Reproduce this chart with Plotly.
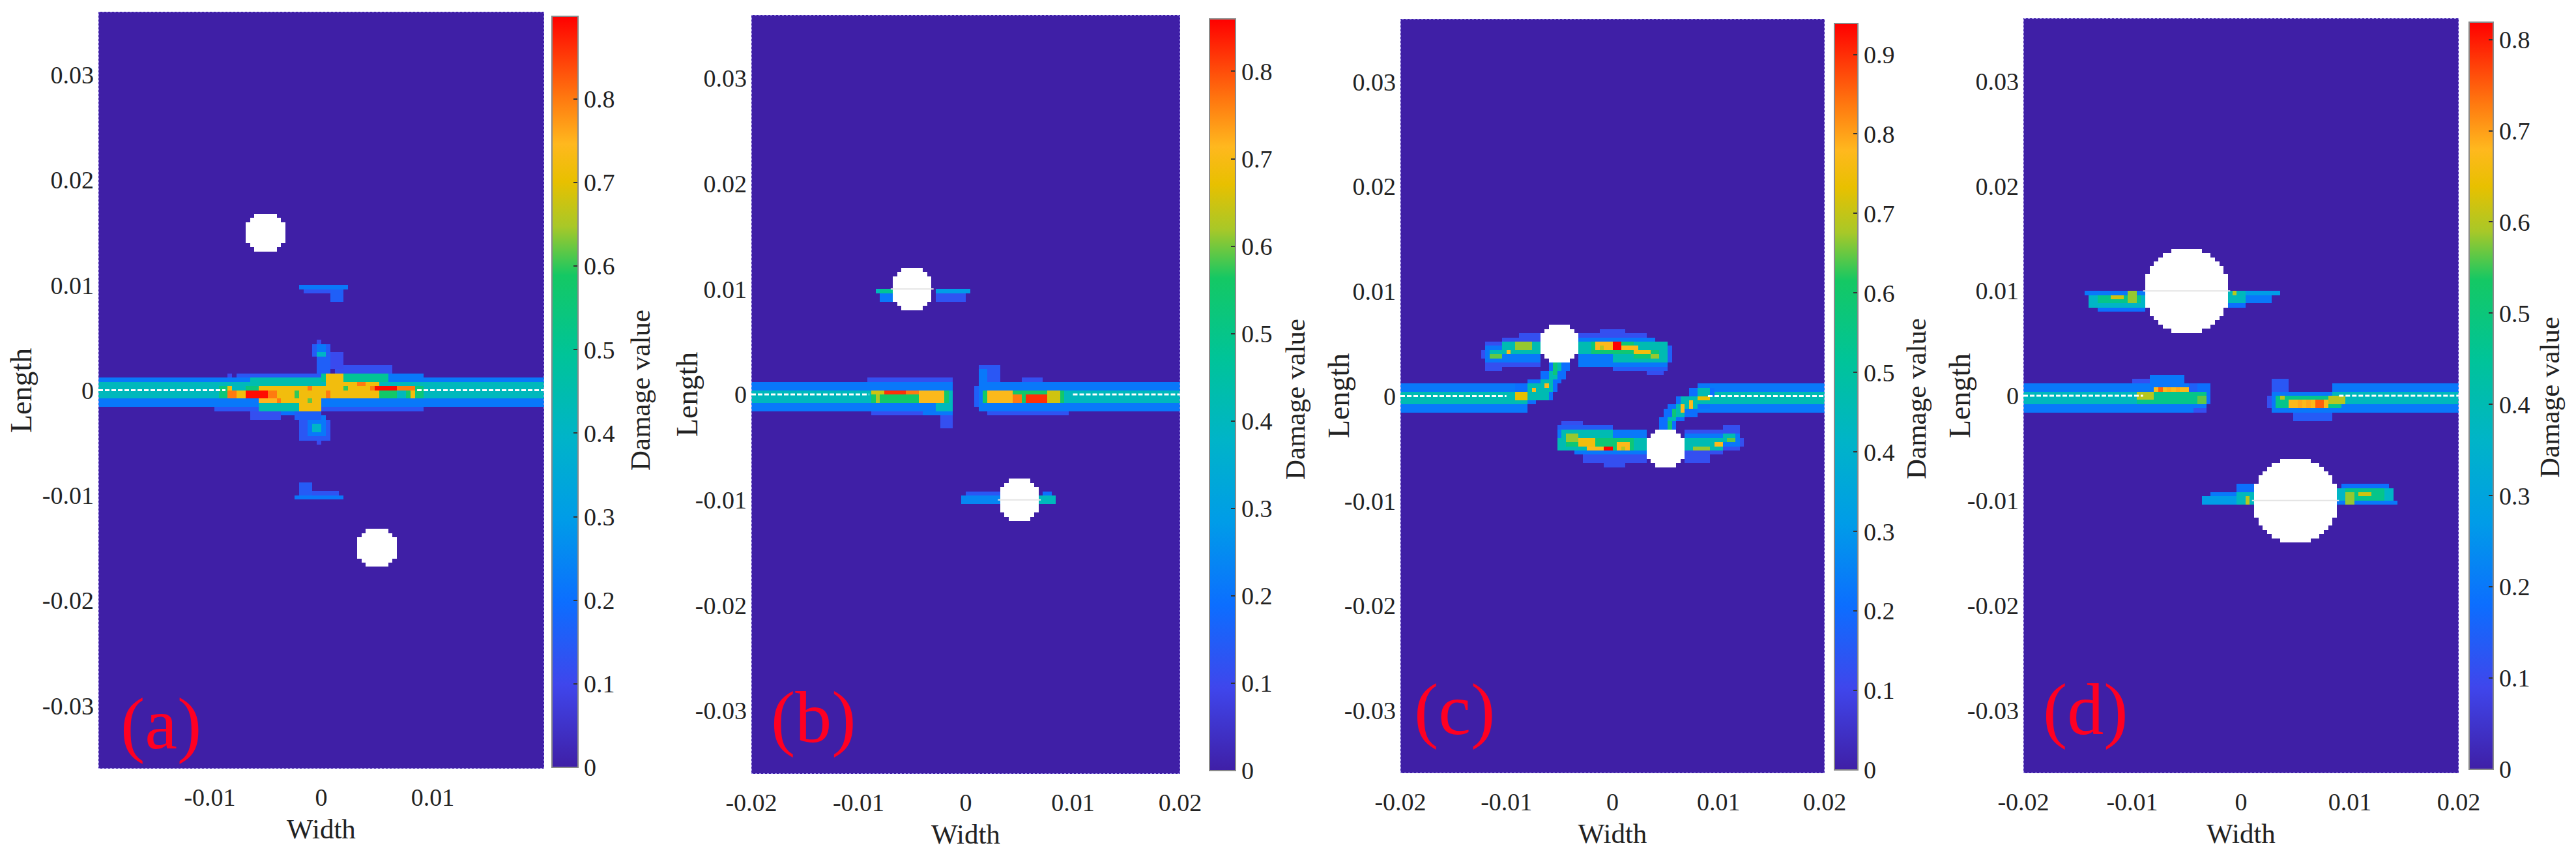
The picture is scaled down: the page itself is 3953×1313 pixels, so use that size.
import numpy as np
import plotly.graph_objects as go

FIG_W, FIG_H = 3953, 1313
FONT = "Liberation Serif"
PAGE_PAD = 8  # the page adds this margin around the figure

# damage colour scale (fraction of colour-bar maximum)
color_stops = [[0.0, "#3F1FA6"], [0.11, "#3F46EC"], [0.22, "#0C6EFF"], [0.33, "#009CE8"],
               [0.44, "#00B4C8"], [0.55, "#00C498"], [0.655, "#14C864"], [0.72, "#A8C828"],
               [0.78, "#E8C000"], [0.83, "#FFB81E"], [0.89, "#FF7A10"], [1.0, "#FF0000"]]

labels = ["(a)", "(b)", "(c)", "(d)"]
z_max = [0.899, 0.86, 0.939, 0.819]
cbar_ticks = [[0, .1, .2, .3, .4, .5, .6, .7, .8],
              [0, .1, .2, .3, .4, .5, .6, .7, .8],
              [0, .1, .2, .3, .4, .5, .6, .7, .8, .9],
              [0, .1, .2, .3, .4, .5, .6, .7, .8]]
x_ticks = [[-0.01, 0, 0.01], [-0.02, -0.01, 0, 0.01, 0.02],
           [-0.02, -0.01, 0, 0.01, 0.02], [-0.02, -0.01, 0, 0.01, 0.02]]
y_ticks = [-0.03, -0.02, -0.01, 0, 0.01, 0.02, 0.03]

# holes: centre x, centre y, radius (mm)
holes_a = [(-5, 15, 2), (5, -15, 2)]
holes_b = [(-5, 10, 2), (5, -10, 2)]
holes_c = [(-5, 5, 2), (5, -5, 2)]
holes_d = [(-5, 10, 4), (5, -10, 4)]

# crack segments along y=0 (mm)
crack_a = [(-20, -8.6), (8.6, 20)]
crack_b = [(-20, -9), (10, 20)]
crack_c = [(-20, -10), (9, 20)]
crack_d = [(-20, -9), (9, 20)]

# damage patches: x0, x1, y0, y1 (mm), value; later patches overwrite earlier ones
patches_a = [
    (-20, 20, -1.6, 1.2, .22), (-20, 20, -1.0, .6, .42),
    (-7.6, -.2, 1.0, 1.5, .14), (-8.6, -8, 1.0, 1.5, .11),
    (0, 9.2, 1.0, 1.6, .22), (1, 6.2, 1.6, 2.3, .12),
    (-.2, 6, .6, 1.4, .5), (-6.4, -.2, .5, 1.0, .45),
    (-9.2, -8, -.9, .5, .55), (8.5, 9.2, -.9, .4, .55),
    (-9.5, -.2, -1.9, -1.5, .14), (-6.4, -3.5, -2.8, -1.9, .12), (-3.5, -.2, -2.5, -1.9, .2),
    (0, 9, -1.9, -1.5, .14), (-5.6, -.2, -1.9, -1, .45),
    (-5.6, -.2, -1.1, .5, .72), (-2.1, -.2, -1.9, -1.1, .72), (-.2, 5.3, -.8, .5, .72),
    (.4, 2, .5, 1.4, .72), (2, 5.3, .5, .9, .72),
    (-8.6, -8.2, 0, .5, .72), (-7.6, -7, -.9, 0, .72), (-7, -5.6, -1, .4, .55),
    (-8.6, -7.6, -.9, 0, .8), (-7, -4.9, -.8, 0, .89), (-4.9, -4.1, -.7, -.1, .8),
    (5.3, 6.8, -.9, -.2, .58), (7.4, 7.9, -.9, -.1, .58), (5.3, 8.4, -.2, .5, .6),
    (4.8, 6.9, -.15, .5, .89), (4.3, 4.8, -.15, .5, .8), (6.9, 8.4, 0, .5, .8),
    (8, 8.4, -.9, 0, .72), (-5.6, -4.1, -1.4, -.9, .75),
    (-1.2, -.7, 0, .4, .8), (.4, .9, -.8, -.2, .8), (3.3, 3.9, .4, .9, .8), (-3.9, -3.5, -1.2, -.8, .8),
    (-2.5, -2.1, -.7, -.1, .6), (1.9, 2.4, -.2, .2, .6), (-1.4, -.8, -1.3, -.9, .62),
    (-1, .8, 3, 4.4, .15), (-.6, .5, 2.6, 4.2, .22), (-.4, .3, 3, 3.6, .4), (-.5, .1, 4.4, 4.9, .11),
    (-.5, .9, 1.4, 3, .16), (.7, 2, 1.8, 3.5, .11),
    (-2, .6, -4.9, -3, .14), (-1.1, .3, -4.6, -2.6, .22), (-.9, -.1, -4, -3.3, .4),
    (-.4, .1, -5.4, -4.9, .11), (-2.4, -.1, -3, -1.9, .16),
    (-2.1, 2.4, 9.5, 10, .22), (-1.5, 1.9, 9.1, 9.6, .13), (.8, 1.9, 8.5, 9.6, .16),
    (-2.5, 1.9, -10.5, -10, .22), (-2, 1.4, -10, -9.5, .13), (-2, -1, -10, -8.9, .15),
]
patches_b = [
    (-20, -1.4, -1.5, 1.2, .22), (-20, -1.4, -.9, .55, .42),
    (-9.3, -1.2, 1.1, 1.5, .12), (-9, -4, -1.9, -1.5, .12),
    (-4.2, -1.1, -2.2, -1, .22), (-3, -1.1, -1.7, -.8, .42), (-2.4, -1.4, -3.2, -2.2, .12),
    (-9, -1.7, -.8, .45, .58), (-8.8, -7.6, 0, .4, .68), (-7.5, -5.5, -.15, .4, .86),
    (-5.5, -4.4, -.15, .4, .8), (-4.4, -2, -.8, .35, .74), (-8.6, -8.2, -.9, 0, .65),
    (1, 3, 1, 2.8, .14), (1, 2, .6, 2.2, .22),
    (.6, 1.2, -1.2, .8, .16), (1, 20, -1.5, 1.2, .22), (1.4, 20, -.9, .55, .42),
    (1.6, 9, -.8, .4, .58), (2, 4.3, -.7, .35, .74), (4.4, 5.3, -.7, -.05, .8),
    (5.4, 7.5, -.7, 0, .86), (7.5, 8.9, -.8, .3, .68),
    (1.8, 9.4, -1.9, -1.5, .13), (5.3, 7, 1.1, 1.5, .12),
    (-8.5, -7, 9.4, 10, .42), (-8, -6.7, 8.9, 9.4, .22), (-8, -6.8, 9.5, 9.9, .5),
    (-3, .5, 9.4, 9.9, .3), (-3, 0, 8.9, 9.4, .13),
    (-.6, 3.2, -10.3, -9.8, .25), (0, 3.2, -9.8, -9.3, .14),
    (6.9, 8.3, -10.3, -9.8, .42), (7, 7.8, -9.8, -9.3, .2),
]
patches_c_arms = [
    (-20, -8.1, -1.5, 1.08, .22), (-20, -8.1, -1, .45, .44),
    (8.1, 20, -1.5, 1.08, .22), (8.1, 20, -1, .45, .44),
]
patches_c_sym = [
    (-9.4, -7.2, -1, -.4, .2), (-9.4, -5.8, -.4, .45, .2), (-9.1, -5.1, .45, 1.1, .2),
    (-8, -4.7, 1.1, 1.7, .2), (-6.9, -4.3, 1.7, 2.3, .2), (-6, -4.2, 2.3, 3, .2),
    (-9.1, -8, -1, -.4, .44), (-9.4, -6.2, -.4, .45, .44), (-8, -5.8, .45, 1.1, .44),
    (-6.9, -5.5, 1.1, 1.7, .44), (-6, -5.1, 1.7, 2.3, .44), (-5.6, -5, 2.3, 3, .44),
    (-9.1, -8.1, -.4, .3, .7), (-7.6, -7.2, .2, .75, .74), (-6.6, -6.2, .65, 1.2, .74),
    (-5.5, -5.2, 2.1, 3, .55), (-5.8, -5.5, 1.1, 1.7, .55),
    (-12.1, -6.8, 2.9, 5, .12), (-10.5, -6.8, 5, 5.5, .12), (-9, -6.8, 5.5, 6.05, .12),
    (-12, -10.5, 2.5, 2.9, .12), (-12.5, -12.1, 3.6, 4.4, .12),
    (-12, -6.8, 3.2, 4.6, .22), (-11.6, -10.4, 3.4, 4.2, .44), (-10.4, -6.8, 3.8, 5.1, .44),
    (-11.6, -10.6, 3.6, 4, .62), (-10.2, -9.6, 4, 4.5, .74), (-9.1, -7.6, 4.5, 5, .64),
    (-1.2, 1, 6.05, 6.5, .12), (-3.1, 3, 5.5, 6.05, .12), (-3.1, 3.8, 5, 5.5, .22),
    (-3.1, 5.1, 3.8, 5, .44), (5.1, 5.4, 3.2, 4.6, .16), (-3.1, 5.3, 2.9, 3.8, .22), (0, 5, 3, 3.8, .44),
    (0, 5.3, 2.4, 2.9, .15), (3, 4.9, 2, 2.4, .12),
    (-2.1, 2, 3.9, 5, .56), (2, 4.3, 3.6, 4.5, .56),
    (-1.7, -.2, 4.3, 5, .74), (-1.2, -.7, 4.4, 4.8, .66), (-.05, .9, 4.4, 5.06, .93),
    (.9, 2.4, 4.5, 4.9, .74), (1.8, 3.4, 3.9, 4.5, .72), (3.4, 4.3, 3.4, 4, .64),
]
patches_d = [
    (-20, -3.4, -1.5, 1.15, .22), (-20, -3.4, -.9, .55, .42),
    (-10, -8.6, 1.15, 1.4, .12), (-8.6, -5.1, 1.15, 1.9, .22), (-5, -2.7, 0, 1.3, .16),
    (-4.2, -2.7, -.8, 1.2, .2), (-4.3, -3.1, -1.75, -1.2, .12),
    (-9.7, -3.3, -.8, .3, .52), (-9.7, -8.2, -.4, .33, .66), (-8.1, -4.7, .2, .85, .74),
    (-7.6, -7.1, .2, .85, .82), (-7, -6.5, .2, .85, .76), (-6.1, -5.5, .2, .85, .76), (-4, -3.3, -.8, .1, .62),
    (8.2, 20, -1.5, 1.15, .22), (8.2, 20, -.9, .55, .42),
    (2.9, 8.2, -1.5, .45, .22), (4.8, 8.2, -2.25, -1.5, .15), (2.9, 4.4, .45, 1.4, .14),
    (2.4, 2.9, -1.4, -.2, .12), (3.2, 8.2, -1.2, 0, .42), (3.2, 9.3, -1.2, -.1, .52),
    (3.4, 4, -.6, -.2, .66), (8, 9.4, -.7, 0, .66), (4.4, 7.9, -1.2, -.55, .74),
    (5.2, 5.7, -1.2, -.55, .76), (6, 6.5, -1.2, -.55, .76), (6.9, 7.4, -1.2, -.55, .82),
]
patches_d_sym = [
    (-14.4, -8.75, 9.55, 10.1, .22), (-14, -8.75, 8.5, 9.55, .4), (-13.4, -9, 8, 8.5, .2),
    (-13.1, -9.4, 8.7, 9.55, .52), (-11.9, -10.9, 9, 9.5, .68), (-10.3, -9.5, 8.9, 10, .64),
    (-1.2, 3.7, 9.45, 10, .3), (-1.2, 2.75, 8.95, 9.45, .22), (-1.2, .35, 8.3, 8.95, .2),
    (-1.2, .5, 8.9, 10, .42), (-.7, -.3, 9.45, 10, .66),
]
MIRROR_SHIFT = -0.3  # vertical offset of the lower half relative to point symmetry


def mirror(patches):
    return [(-x1, -x0, -y1 + MIRROR_SHIFT, -y0 + MIRROR_SHIFT, v) for x0, x1, y0, y1, v in patches]


patch_sets = [patches_a, patches_b,
              patches_c_arms + patches_c_sym + mirror(patches_c_sym),
              patches_d + patches_d_sym + mirror(patches_d_sym)]
hole_sets = [holes_a, holes_b, holes_c, holes_d]
crack_sets = [crack_a, crack_b, crack_c, crack_d]
hole_crack = [False, True, False, True]

# pixel layout of each panel: plot left, right, top, bottom; bar left, right, top, bottom
plot_px = [(151, 835, 18, 1179), (1153, 1811, 23, 1187), (2149, 2800, 29, 1186), (3105, 3773, 28, 1186)]
bar_px = [(847, 887, 25, 1177), (1856, 1896, 29, 1182), (2815, 2851, 36, 1181), (3789, 3826, 34, 1180)]
label_px = [(247, 1110), (1248, 1100), (2232, 1088), (3200, 1088)]
length_px = [(32, 599), (1054, 605), (2055, 607), (3008, 607)]
damage_px = [(982, 599), (1987, 612), (2940, 612), (3912, 610)]


def px(x):
    return (x - PAGE_PAD) / FIG_W


def py(y):
    return 1 - (y - PAGE_PAD) / FIG_H


CELL = 0.4
X_HALF, Y_HALF = 20.0, 36.0
xc = np.arange(-X_HALF + CELL / 2, X_HALF, CELL)
yc = np.arange(-Y_HALF + CELL / 2, Y_HALF, CELL)

fig = go.Figure()
annotations = []
for i in range(4):
    Z = np.zeros((yc.size, xc.size))
    for x0, x1, y0, y1, v in patch_sets[i]:
        mx = (xc >= x0) & (xc <= x1)
        my = (yc >= y0) & (yc <= y1)
        Z[np.ix_(my, mx)] = v
    # patch values were read on the (a) colour bar; keep the hottest value at each panel's maximum
    Z = np.minimum(Z * (z_max[i] / 0.899) if i != 0 else Z, z_max[i])
    XX, YY = np.meshgrid(xc, yc)
    for cx, cy, r in hole_sets[i]:
        Z[(XX - cx) ** 2 + (YY - cy) ** 2 < (r - 0.01) ** 2] = np.nan

    pl, pr, pt, pb = plot_px[i]
    bl, br, bt, bb = bar_px[i]
    sfx = "" if i == 0 else str(i + 1)
    fig.add_trace(go.Heatmap(
        x=xc * 1e-3, y=yc * 1e-3, z=Z, zmin=0, zmax=z_max[i], colorscale=color_stops,
        xaxis="x" + sfx, yaxis="y" + sfx, hoverinfo="skip", zsmooth=False,
        colorbar=dict(
            x=px(bl), xanchor="left", y=py(bb), yanchor="bottom",
            len=(bb - bt) / FIG_H, lenmode="fraction", thickness=br - bl, thicknessmode="pixels",
            xpad=0, ypad=0, outlinecolor="#8a8a8a", outlinewidth=2,
            tickmode="array", tickvals=cbar_ticks[i], ticktext=[f"{t:g}" for t in cbar_ticks[i]],
            ticks="inside", ticklen=8, tickcolor="#333333", tickwidth=2,
            tickfont=dict(family=FONT, size=38, color="#222222"),
        )))
    # dotted outline of the sheet
    bx = [-X_HALF, X_HALF, X_HALF, -X_HALF, -X_HALF]
    by = [-Y_HALF, -Y_HALF, Y_HALF, Y_HALF, -Y_HALF]
    fig.add_trace(go.Scatter(x=np.array(bx) * 1e-3, y=np.array(by) * 1e-3, mode="lines",
                             line=dict(color="#9d90e6", width=2, dash="3px,3px"),
                             xaxis="x" + sfx, yaxis="y" + sfx, hoverinfo="skip", showlegend=False))
    for c0, c1 in crack_sets[i]:
        fig.add_trace(go.Scatter(x=[c0 * 1e-3, c1 * 1e-3], y=[0, 0], mode="lines",
                                 line=dict(color="#ffffff", width=3, dash="7px,3px"),
                                 xaxis="x" + sfx, yaxis="y" + sfx, hoverinfo="skip", showlegend=False))
    if hole_crack[i]:
        for cx, cy, r in hole_sets[i]:
            fig.add_trace(go.Scatter(x=[(cx - r) * 1e-3, (cx + r) * 1e-3], y=[cy * 1e-3, cy * 1e-3], mode="lines",
                                     line=dict(color="#e4e4e4", width=2),
                                     xaxis="x" + sfx, yaxis="y" + sfx, hoverinfo="skip", showlegend=False))
    common = dict(showgrid=False, zeroline=False, showline=False, ticks="",
                  tickfont=dict(family=FONT, size=38, color="#222222"))
    fig.update_layout({
        "xaxis" + sfx: dict(domain=[px(pl), px(pr)], range=[-X_HALF * 1e-3, X_HALF * 1e-3],
                            anchor="y" + sfx, tickmode="array", tickvals=x_ticks[i],
                            ticktext=[f"{t:g}" for t in x_ticks[i]], ticklabelstandoff=18,
                            title=dict(text="Width", standoff=12, font=dict(family=FONT, size=43, color="#222222")),
                            **common),
        "yaxis" + sfx: dict(domain=[py(pb), py(pt)], range=[-Y_HALF * 1e-3, Y_HALF * 1e-3],
                            anchor="x" + sfx, tickmode="array", tickvals=y_ticks,
                            ticktext=[f"{t:g}" for t in y_ticks], ticklabelstandoff=6,
                            **common),
    })
    lx, ly = label_px[i]
    annotations.append(dict(text=labels[i], x=px(lx), y=py(ly), xref="paper", yref="paper",
                            xanchor="center", yanchor="middle", showarrow=False,
                            font=dict(family=FONT, size=112, color="#FF0022")))
    annotations.append(dict(text="Length", x=px(length_px[i][0]), y=py(length_px[i][1]), textangle=-90,
                            xref="paper", yref="paper", xanchor="center", yanchor="middle", showarrow=False,
                            font=dict(family=FONT, size=46, color="#222222")))
    annotations.append(dict(text="Damage value", x=px(damage_px[i][0]), y=py(damage_px[i][1]), textangle=-90,
                            xref="paper", yref="paper", xanchor="center", yanchor="middle", showarrow=False,
                            font=dict(family=FONT, size=43, color="#222222")))

fig.update_layout(width=FIG_W, height=FIG_H, margin=dict(l=0, r=0, t=0, b=0, autoexpand=False),
                  paper_bgcolor="white", plot_bgcolor="white", showlegend=False,
                  annotations=annotations)
fig.write_html("out.html")
